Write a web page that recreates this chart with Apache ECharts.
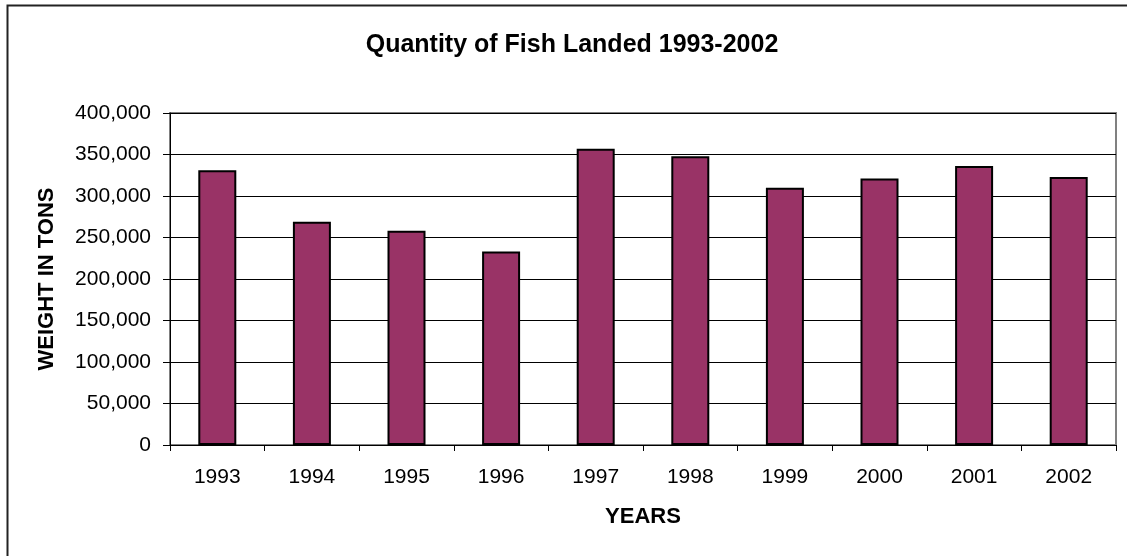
<!DOCTYPE html>
<html><head><meta charset="utf-8">
<script src="https://cdn.jsdelivr.net/npm/echarts@6/dist/echarts.min.js"></script>
<style>html,body{margin:0;padding:0;background:#fff}#c{width:1127px;height:556px}</style>
</head><body><div id="c"></div>
<script>
const years = ['1993','1994','1995','1996','1997','1998','1999','2000','2001','2002'];
const weights = [331000, 269000, 258000, 233000, 357000, 348000, 310000, 321000, 336000, 323000];
const yTicks = [0, 50000, 100000, 150000, 200000, 250000, 300000, 350000, 400000];

const chart = echarts.init(document.getElementById('c'), null, {renderer:'canvas'});
const font = '"Liberation Sans", Arial, sans-serif';
chart.setOption({
  animation:false,
  backgroundColor:'#fff',
  title:{text:'Quantity of Fish Landed 1993-2002', left:567, top:28, textAlign:'center',
    textStyle:{fontFamily:font, fontSize:25, fontWeight:'bold', color:'#000'}},
  graphic:[
    {type:'rect', shape:{x:7.5, y:5.5, width:1140, height:580}, style:{fill:null, stroke:'#222', lineWidth:2}, z:-1},
    {type:'rect', shape:{x:170, y:113, width:946, height:332}, style:{fill:null, stroke:'#808080', lineWidth:2}, z:0}
  ],
  grid:{left:170, right:11, top:113, bottom:111, show:false},
  xAxis:{type:'category', data:years,
    name:'YEARS', nameLocation:'middle', nameGap:61,
    nameTextStyle:{fontFamily:font, fontSize:22, fontWeight:'bold', color:'#000'},
    axisLine:{lineStyle:{color:'#000', width:1}},
    axisTick:{show:true, alignWithLabel:false, length:6, lineStyle:{color:'#000'}},
    axisLabel:{fontFamily:font, fontSize:21, color:'#000', margin:22},
    splitLine:{show:false}},
  yAxis:{type:'value', min:0, max:400000, interval:50000,
    name:'WEIGHT IN TONS', nameLocation:'middle', nameGap:112, nameRotate:90,
    nameTextStyle:{fontFamily:font, fontSize:22, fontWeight:'bold', color:'#000'},
    axisLine:{show:true, lineStyle:{color:'#000', width:1}},
    axisTick:{show:true, length:7, lineStyle:{color:'#000'}},
    axisLabel:{fontFamily:font, fontSize:21, color:'#000', margin:19,
      formatter:v=> yTicks.includes(v) ? v.toLocaleString('en-US') : ''},
    splitLine:{show:true, lineStyle:{color:'#000', width:1}}},
  series:[{type:'bar', data:weights, barWidth:38,
    itemStyle:{color:'#993366', borderColor:'#000', borderWidth:2}}]
});
</script></body></html>
